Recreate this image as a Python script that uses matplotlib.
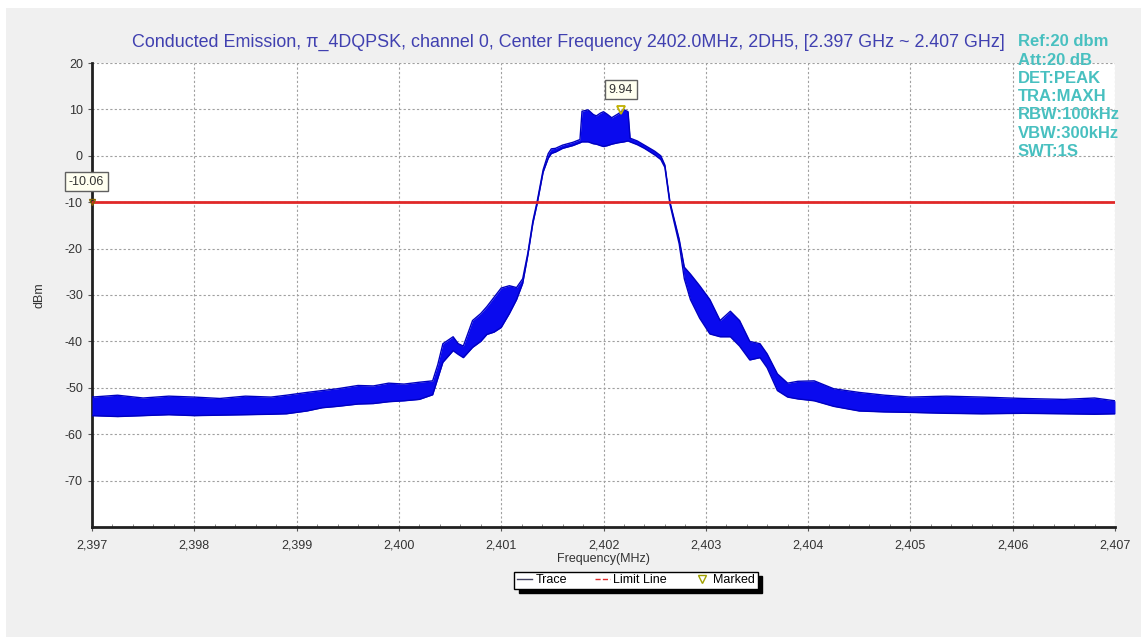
import matplotlib
matplotlib.use("Agg")
import matplotlib.pyplot as plt
from matplotlib.lines import Line2D
from matplotlib.patches import Rectangle
from matplotlib.ticker import MultipleLocator, FixedLocator

plt.rcParams['font.family'] = ['Liberation Sans', 'DejaVu Sans']

# ---- data ----
freq_mhz = [2397.00, 2397.25, 2397.50, 2397.75, 2398.00, 2398.25, 2398.50, 2398.75,
            2398.90, 2399.10, 2399.25, 2399.40, 2399.60, 2399.75, 2399.90, 2400.05,
            2400.20, 2400.33, 2400.38, 2400.43, 2400.53, 2400.58, 2400.63, 2400.72,
            2400.80, 2400.86, 2400.93, 2401.00, 2401.08, 2401.15, 2401.21, 2401.26,
            2401.31, 2401.35, 2401.41, 2401.46, 2401.49, 2401.53, 2401.60, 2401.70,
            2401.77, 2401.79, 2401.85, 2401.90, 2401.93, 2401.97, 2402.00, 2402.04,
            2402.08, 2402.14, 2402.20, 2402.24, 2402.26, 2402.33, 2402.40, 2402.50,
            2402.56, 2402.60, 2402.65, 2402.74, 2402.79, 2402.85, 2402.94, 2403.04,
            2403.14, 2403.24, 2403.33, 2403.43, 2403.53, 2403.60, 2403.70, 2403.80,
            2403.90, 2404.06, 2404.25, 2404.50, 2404.75, 2405.00, 2405.35, 2405.70,
            2406.10, 2406.50, 2406.80, 2407.00]
trace_upper = [-52.0, -51.6, -52.2, -51.8, -52.0, -52.3, -51.8, -52.0,
               -51.6, -51.0, -50.6, -50.2, -49.5, -49.6, -49.0, -49.2,
               -48.8, -48.5, -45.0, -40.5, -39.0, -40.5, -41.0, -35.5,
               -34.0, -32.5, -30.5, -28.5, -28.0, -28.4, -26.5, -21.0,
               -14.0, -10.0, -3.0, 0.5, 1.5, 1.6, 2.3, 2.9,
               3.5, 9.6, 9.9, 8.9, 8.6, 9.2, 9.5, 8.9,
               8.2, 9.0, 9.94, 9.5, 3.8, 3.2, 2.3, 1.0,
               0.0, -2.0, -10.0, -18.0, -24.0, -25.5, -28.0, -31.0,
               -35.5, -33.5, -35.5, -40.0, -40.5, -42.7, -47.0, -49.0,
               -48.6, -48.5, -50.2, -51.0, -51.6, -52.0, -51.8, -52.0,
               -52.3, -52.5, -52.2, -52.8]
trace_lower = [-56.0, -56.2, -56.0, -55.8, -56.0, -55.9, -55.8, -55.7,
               -55.6, -55.0, -54.3, -54.0, -53.5, -53.4, -53.0, -52.8,
               -52.5, -51.5, -48.0, -44.5, -42.0, -42.8, -43.5, -41.3,
               -40.0, -38.5, -38.0, -37.0, -34.0, -31.0, -27.5, -21.5,
               -14.5, -10.5, -3.5, -0.5, 0.5, 0.8, 1.6, 2.2,
               2.8, 3.0, 3.0, 2.6, 2.5, 2.2, 2.0, 2.2,
               2.5, 2.8, 3.0, 3.2, 3.0, 2.4, 1.6, 0.2,
               -0.8, -2.5, -10.5, -19.0, -26.5, -31.0, -35.0, -38.4,
               -39.0, -39.0, -41.0, -44.0, -43.5, -45.7, -50.6, -52.0,
               -52.4, -52.8, -54.0, -55.0, -55.2, -55.3, -55.5, -55.6,
               -55.5, -55.6, -55.7, -55.6]
limit_dbm = -10.0
marker_start = (2397.0, -10.06)
marker_peak = (2402.17, 9.94)
x_ticks = [2397, 2398, 2399, 2400, 2401, 2402, 2403, 2404, 2405, 2406, 2407]
x_tick_labels = ["2,397", "2,398", "2,399", "2,400", "2,401", "2,402",
                 "2,403", "2,404", "2,405", "2,406", "2,407"]
y_ticks = [20, 10, 0, -10, -20, -30, -40, -50, -60, -70]
info_lines = ["Ref:20 dbm", "Att:20 dB", "DET:PEAK", "TRA:MAXH",
              "RBW:100kHz", "VBW:300kHz", "SWT:1S"]
title = ("Conducted Emission, \u03c0_4DQPSK, channel 0, Center Frequency 2402.0MHz, "
         "2DH5, [2.397 GHz ~ 2.407 GHz]")

W, H = 1147, 644
fig = plt.figure(figsize=(W / 100, H / 100), dpi=100, facecolor='white')
fig.patches.append(Rectangle((6 / W, 1 - 637 / H), (1141 - 6) / W, (637 - 8) / H,
                             transform=fig.transFigure, facecolor='#f0f0f0',
                             edgecolor='none', zorder=-10))

ax = fig.add_axes([92 / W, 1 - 527 / H, (1115 - 92) / W, (527 - 63) / H])
ax.set_facecolor('white')
ax.set_xlim(2397, 2407)
ax.set_ylim(-80, 20)

trace_col = '#0a0aee'
ax.fill_between(freq_mhz, trace_lower, trace_upper, color=trace_col, lw=0, zorder=3)
ax.plot(freq_mhz, trace_upper, color='#0000c0', lw=1.0, zorder=3)
ax.plot(freq_mhz, trace_lower, color='#0000c0', lw=1.0, zorder=3)

ax.axhline(limit_dbm, color='#e02828', lw=2, zorder=4)

# markers
ax.plot([marker_peak[0]], [marker_peak[1]], marker='v', ms=6, mfc='none',
        mec='#c0b000', mew=1.3, zorder=6)
ax.plot([marker_start[0]], [marker_start[1]], marker='v', ms=4, mfc='none',
        mec='#806000', mew=1, zorder=6, clip_on=False)
bbox_kw = dict(boxstyle='square,pad=0.3', fc='#fffff0', ec='#606060', lw=1)
ax.annotate(f"{marker_peak[1]:.2f}", xy=marker_peak, xytext=(0, 14.5),
            textcoords='offset points', ha='center', va='center', fontsize=9,
            color='#333333', bbox=bbox_kw, zorder=7)
ax.annotate(f"{marker_start[1]:.2f}", xy=marker_start, xytext=(-4, 15),
            textcoords='offset points', ha='center', va='center', fontsize=9,
            color='#333333', bbox=bbox_kw, zorder=7, annotation_clip=False)

# axes styling
for s in ['top', 'right']:
    ax.spines[s].set_visible(False)
for s in ['left', 'bottom']:
    ax.spines[s].set_linewidth(2)
    ax.spines[s].set_color('#202020')
ax.xaxis.set_major_locator(FixedLocator(x_ticks))
ax.set_xticklabels(x_tick_labels)
ax.xaxis.set_minor_locator(MultipleLocator(0.2))
ax.yaxis.set_major_locator(FixedLocator(y_ticks))
ax.set_yticklabels([str(v) for v in y_ticks])
ax.tick_params(axis='both', which='major', labelsize=9, labelcolor='#333333',
               length=3, color='#555555')
ax.tick_params(axis='x', which='minor', length=2, direction='in', color='#777777')
ax.tick_params(axis='x', pad=6)
ax.grid(True, which='major', color='#a0a0a0', lw=0.8, linestyle=(0, (2, 2)))
ax.set_axisbelow(True)

ax.set_xlabel("Frequency(MHz)", fontsize=9, color='#333333', labelpad=1)
ax.set_ylabel("dBm", fontsize=9, color='#333333', labelpad=14)

fig.text(568 / W, 1 - 42 / H, title, ha='center', va='center', fontsize=12.9,
         color='#4040b0')
for i, line in enumerate(info_lines):
    fig.text(1018 / W, 1 - (42 + i * 18.2) / H, line, ha='left', va='center',
             fontsize=12, fontweight='bold', color='#48c0c0')

handles = [Line2D([], [], color='#404060', lw=1),
           Line2D([], [], color='#e02828', lw=1, linestyle='--'),
           Line2D([], [], color='#a0a000', marker='v', mfc='none', lw=0, ms=6)]
leg = fig.legend(handles, ["Trace", "Limit Line", "Marked"], ncol=3, loc='center',
                 bbox_to_anchor=(636 / W, 1 - 580 / H), fontsize=9, frameon=True,
                 fancybox=False, edgecolor='black', framealpha=1,
                 shadow={'ox': 3, 'oy': -3, 'color': 'black', 'alpha': 1},
                 handlelength=1.2, handletextpad=0.3, columnspacing=2.2,
                 borderpad=0.2)
leg.get_frame().set_linewidth(1)

fig.savefig("out.png", dpi=100, facecolor=fig.get_facecolor())
